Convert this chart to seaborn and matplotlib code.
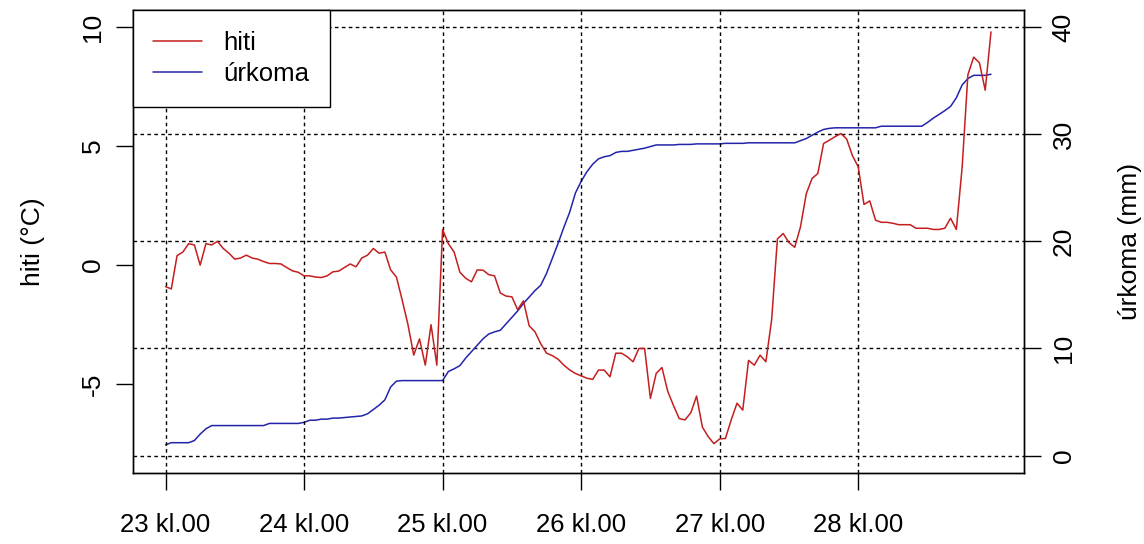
import numpy as np
import pandas as pd
import matplotlib
matplotlib.use('Agg')
import matplotlib.pyplot as plt
import seaborn as sns

# -----------------------------------------------------------
# DATA (hourly, hours from 23 kl.00)
# -----------------------------------------------------------

hours = list(range(144))

hiti = [
    -0.9, -1.0, 0.4, 0.55, 0.9, 0.85, 0.0, 0.9, 0.85, 1.0,
    0.7, 0.5, 0.25, 0.3, 0.42, 0.3, 0.25, 0.15, 0.07, 0.07,
    0.05, -0.1, -0.24, -0.3, -0.45, -0.45, -0.5, -0.52, -0.45, -0.28,
    -0.25, -0.1, 0.05, -0.07, 0.3, 0.42, 0.7, 0.5, 0.55, -0.2,
    -0.5, -1.47, -2.5, -3.78, -3.1, -4.2, -2.5, -4.2, 1.5, 0.9,
    0.55, -0.3, -0.55, -0.7, -0.2, -0.21, -0.4, -0.45, -1.17, -1.3,
    -1.33, -1.87, -1.5, -2.55, -2.8, -3.3, -3.7, -3.8, -3.95, -4.2,
    -4.4, -4.55, -4.65, -4.75, -4.8, -4.41, -4.41, -4.69, -3.7, -3.7,
    -3.85, -4.06, -3.5, -3.5, -5.6, -4.55, -4.3, -5.3, -5.9, -6.45,
    -6.5, -6.2, -5.5, -6.8, -7.2, -7.5, -7.3, -7.28, -6.5, -5.8,
    -6.09, -4.0, -4.2, -3.78, -4.06, -2.3, 1.1, 1.33, 0.95, 0.75,
    1.61, 3.0, 3.64, 3.85, 5.11, 5.25, 5.4, 5.53, 5.3, 4.6,
    4.13, 2.55, 2.7, 1.89, 1.8, 1.8, 1.76, 1.7, 1.7, 1.7,
    1.55, 1.55, 1.55, 1.5, 1.5, 1.55, 1.97, 1.5, 4.1, 8.0,
    8.74, 8.5, 7.35, 9.8,
]

urkoma = [
    1.0, 1.2, 1.2, 1.2, 1.2, 1.4, 2.0, 2.5, 2.8, 2.8,
    2.8, 2.8, 2.8, 2.8, 2.8, 2.8, 2.8, 2.8, 3.0, 3.0,
    3.0, 3.0, 3.0, 3.0, 3.1, 3.3, 3.3, 3.4, 3.4, 3.5,
    3.5, 3.55, 3.6, 3.65, 3.7, 3.9, 4.3, 4.7, 5.2, 6.4,
    6.95, 7.0, 7.0, 7.0, 7.0, 7.0, 7.0, 7.0, 7.0, 7.85,
    8.1, 8.4, 9.1, 9.7, 10.3, 10.9, 11.35, 11.55, 11.7, 12.3,
    12.9, 13.5, 14.2, 14.8, 15.4, 15.9, 17.0, 18.4, 19.8, 21.3,
    22.7, 24.5, 25.6, 26.5, 27.2, 27.7, 27.9, 28.0, 28.3, 28.4,
    28.4, 28.5, 28.6, 28.7, 28.85, 29.0, 29.0, 29.0, 29.0, 29.05,
    29.05, 29.05, 29.1, 29.1, 29.1, 29.1, 29.1, 29.15, 29.15, 29.15,
    29.15, 29.2, 29.2, 29.2, 29.2, 29.2, 29.2, 29.2, 29.2, 29.2,
    29.4, 29.6, 29.9, 30.2, 30.45, 30.55, 30.6, 30.6, 30.6, 30.6,
    30.6, 30.6, 30.6, 30.6, 30.75, 30.75, 30.75, 30.75, 30.75, 30.75,
    30.75, 30.75, 31.1, 31.5, 31.85, 32.2, 32.6, 33.4, 34.6, 35.2,
    35.5, 35.5, 35.5, 35.6,
]

day_ticks = [0, 24, 48, 72, 96, 120]
day_labels = ['23 kl.00', '24 kl.00', '25 kl.00', '26 kl.00', '27 kl.00', '28 kl.00']

hiti_lim = [-8, 10]
hiti_ticks = [-5, 0, 5, 10]
urkoma_lim = [0, 40]
urkoma_ticks = [0, 10, 20, 30, 40]

df = pd.DataFrame({'klst': hours, 'hiti': hiti, 'urkoma': urkoma})

# -----------------------------------------------------------
# STYLE
# -----------------------------------------------------------

sns.set_theme(style='ticks')
plt.rcParams['font.family'] = ['Liberation Sans', 'DejaVu Sans']
plt.rcParams['axes.unicode_minus'] = False
plt.rcParams['text.color'] = 'black'
plt.rcParams['axes.labelcolor'] = 'black'
plt.rcParams['xtick.color'] = 'black'
plt.rcParams['ytick.color'] = 'black'

RED = '#c41e1e'
BLUE = '#2424aa'
FS = 19


def r_pad(lim):
    # R style 4% axis extension
    span = lim[1] - lim[0]
    return (lim[0] - 0.04 * span, lim[1] + 0.04 * span)


fig = plt.figure(figsize=(11.44, 5.44), dpi=100)
ax = fig.add_axes([132.5 / 1144, 1 - 472.7 / 544, (1024 - 132.5) / 1144, (472.7 - 10) / 544])
ax2 = ax.twinx()

# horizontal grid follows right axis, vertical follows days
ax2.set_yticks(urkoma_ticks)
ax2.grid(axis='y', color='black', linestyle=(0, (2.6, 2.4)), linewidth=1.0)
ax.set_xticks(day_ticks)
ax.grid(axis='x', color='black', linestyle=(0, (2.6, 2.4)), linewidth=1.0)
ax.grid(axis='y', visible=False)

sns.lineplot(data=df, x='klst', y='urkoma', ax=ax2, color=BLUE, linewidth=1.1, label='úrkoma')
sns.lineplot(data=df, x='klst', y='hiti', ax=ax, color=RED, linewidth=1.1, label='hiti')

ax.set_zorder(ax2.get_zorder() + 1)
ax.patch.set_visible(False)

ax.set_xlim(r_pad([min(hours), max(hours)]))
ax.set_ylim(r_pad(hiti_lim))
ax2.set_ylim(r_pad(urkoma_lim))

ax.set_xticks(day_ticks)
ax.set_xticklabels(day_labels, fontsize=18.5)
ax.set_yticks(hiti_ticks)
ax2.set_yticks(urkoma_ticks)

ax.set_xlabel('')
ax.set_ylabel('hiti (°C)', fontsize=FS)
ax2.set_ylabel('úrkoma (mm)', fontsize=FS)
ax.yaxis.set_label_coords(-0.098, 0.5)
ax2.yaxis.set_label_coords(1.105, 0.5)

ax.tick_params(axis='x', bottom=True, length=12, width=1, pad=17)
ax.tick_params(axis='y', left=True, length=12, width=1, pad=8, labelsize=FS, labelrotation=90)
ax2.tick_params(axis='y', right=True, length=12, width=1, pad=8, labelsize=FS, labelrotation=90)
for lab in ax.get_yticklabels() + ax2.get_yticklabels():
    lab.set_va('center')

for a in (ax, ax2):
    for s in a.spines.values():
        s.set_visible(True)
        s.set_color('black')
        s.set_linewidth(1.0)

# legend
h1, l1 = ax.get_legend_handles_labels()
h2, l2 = ax2.get_legend_handles_labels()
if ax2.get_legend():
    ax2.get_legend().remove()
leg = ax.legend(h1 + h2, l1 + l2, loc='upper left', bbox_to_anchor=(0, 1),
                borderaxespad=0, fontsize=18.5, frameon=True, fancybox=False,
                edgecolor='black', framealpha=1, handlelength=1.9,
                handletextpad=0.85, labelspacing=0.3, borderpad=0.8)
leg.get_frame().set_linewidth(1.0)

fig.savefig('out.png', dpi=100)
